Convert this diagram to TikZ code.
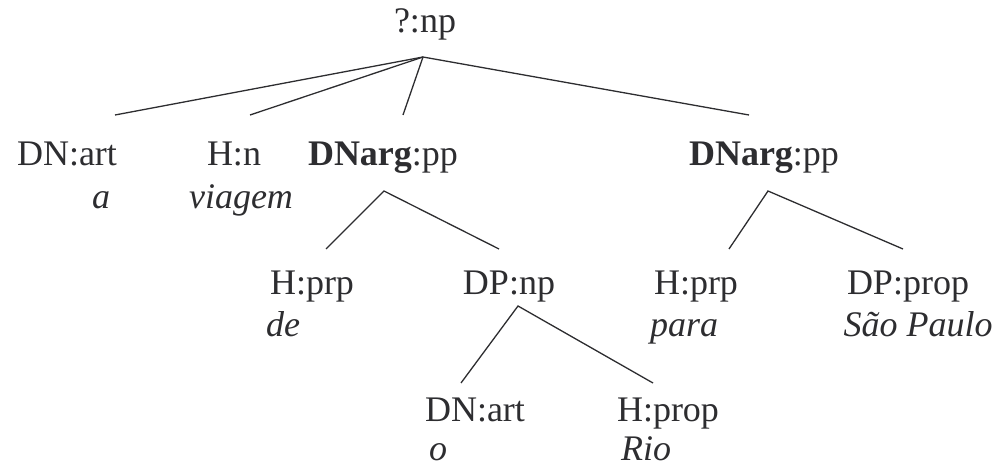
\documentclass[tikz,border=0pt]{standalone}
\usepackage{fontspec}
\setmainfont{Liberation Serif}
\definecolor{ink}{RGB}{45,45,48}
\begin{document}
\begin{tikzpicture}[x=1pt,y=-1pt,
  lab/.style={anchor=base,inner sep=0pt,text=ink,font=\fontsize{36}{43}\selectfont},
  word/.style={lab,font=\fontsize{36}{43}\selectfont\itshape},
  edge/.style={draw=ink,line width=1.3pt}]
\useasboundingbox (0,0) rectangle (1002,468);
% labels
\node[lab] (root) at (425,33) {?:np};
\node[lab] (dnart) at (67,166) {DN:art};
\node[word] (wa) at (101,208) {a};
\node[lab] (hn) at (234,166) {H:n};
\node[word] (wviagem) at (241,208) {viagem};
\node[lab] (dnarg1) at (383,166) {\textbf{DNarg}:pp};
\node[lab] (dnarg2) at (764,166) {\textbf{DNarg}:pp};
\node[lab] (hprp1) at (312,294) {H:prp};
\node[word] (wde) at (283,336) {de};
\node[lab] (dpnp) at (509,294) {DP:np};
\node[lab] (hprp2) at (696,294) {H:prp};
\node[word] (wpara) at (684,336) {para};
\node[lab] (dpprop) at (908,294) {DP:prop};
\node[word] (wsp) at (918,336) {São Paulo};
\node[lab] (dnart2) at (475,421) {DN:art};
\node[word] (wo) at (438,460) {o};
\node[lab] (hprop) at (668,421) {H:prop};
\node[word] (wrio) at (646,460) {Rio};
% connector points
\coordinate (rootB) at (423,57);
\coordinate (dnartT) at (115,115);
\coordinate (hnT) at (250,115);
\coordinate (dnarg1T) at (403,115);
\coordinate (dnarg2T) at (749,115);
\coordinate (dnarg1B) at (384,191);
\coordinate (hprp1T) at (326,249);
\coordinate (dpnpT) at (499,249);
\coordinate (dnarg2B) at (768,191);
\coordinate (hprp2T) at (729,249);
\coordinate (dppropT) at (903,249);
\coordinate (dpnpB) at (518,306);
\coordinate (dnart2T) at (461,383);
\coordinate (hpropT) at (653,383);
% connectors
\draw[edge] (dnartT) -- (rootB);
\draw[edge] (hnT) -- (rootB);
\draw[edge] (dnarg1T) -- (rootB);
\draw[edge] (dnarg2T) -- (rootB);
\draw[edge] (hprp1T) -- (dnarg1B) -- (dpnpT);
\draw[edge] (hprp2T) -- (dnarg2B) -- (dppropT);
\draw[edge] (dnart2T) -- (dpnpB) -- (hpropT);
\end{tikzpicture}
\end{document}
